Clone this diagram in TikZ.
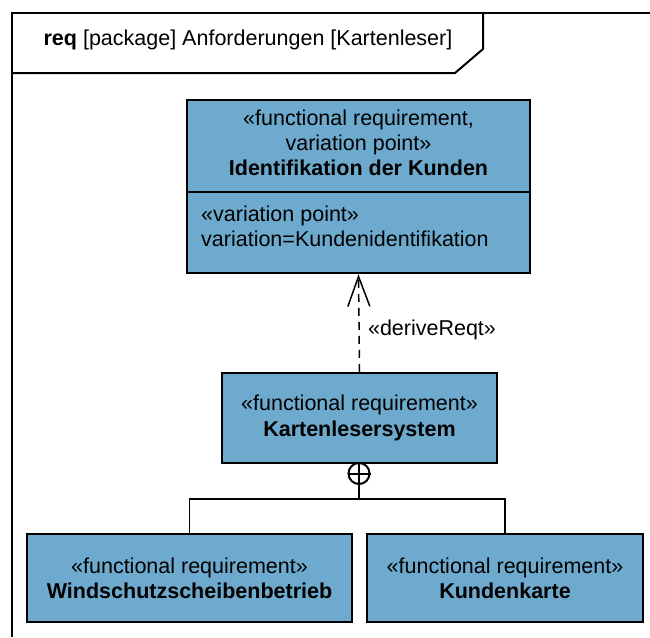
\documentclass[tikz,border=0pt]{standalone}
\usepackage{fontspec}
\setmainfont{Liberation Sans}
\usetikzlibrary{arrows.meta}
\definecolor{reqblue}{RGB}{110,170,205}
\begin{document}
\begin{tikzpicture}[x=1pt,y=-1pt,
  every node/.style={font=\fontsize{21.5}{25}\selectfont, inner sep=0pt},
  reqbox/.style={draw=black, line width=2.5pt, fill=reqblue, rectangle, align=center},
  frameline/.style={line width=2pt},
  conn/.style={line width=1.5pt}]
\useasboundingbox (0,0) rectangle (650,637);
% frame
\draw[frameline] (650,13) -- (12,13) -- (12,637);
\draw[frameline] (12,73) -- (455,73) -- (483,49) -- (483,13);
\node (title) at (248,40) {\textbf{req} [package] Anforderungen [Kartenleser]};
% top requirement
\node[reqbox, minimum width=343, minimum height=173] (ident) at (358.5,186.5) {};
\draw[line width=2.5pt] (ident.west |- 0,192) coordinate (divl) -- (ident.east |- 0,192) coordinate (divr);
\node[align=center] (identtitle) at (358.5,143) {«functional requirement,\\ variation point»\\ \textbf{Identifikation der Kunden}};
\node[align=left, anchor=west] (identattr) at (201,226) {«variation point»\\ variation=Kundenidentifikation};
% middle requirement
\node[reqbox, minimum width=275, minimum height=90] (mid) at (359.5,418) {«functional requirement»\\[1pt] \textbf{Kartenlesersystem}};
% bottom requirements
\node[reqbox, minimum width=325, minimum height=88] (left) at (189.5,578) {«functional requirement»\\ \textbf{Windschutzscheibenbetrieb}};
\node[reqbox, minimum width=276, minimum height=88] (right) at (505,578) {«functional requirement»\\ \textbf{Kundenkarte}};
% deriveReqt
\draw[conn, dash pattern=on 8pt off 6pt, -{Straight Barb[length=30pt,width=22pt,line width=1.5pt]}] (mid.north) -- (ident.south);
\node (derlabel) at (432,330) {«deriveReqt»};
% containment
\node[circle, draw, line width=2pt, minimum size=21pt, fill=white] (cont) at (359,473.5) {};
\draw[line width=2pt] (cont.north) -- (cont.south) (cont.west) -- (cont.east);
\coordinate (junc) at (359,499);
\draw[conn] (cont.south) -- (junc);
\draw[conn] (left.north) |- (junc) -| (right.north);
\end{tikzpicture}
\end{document}
